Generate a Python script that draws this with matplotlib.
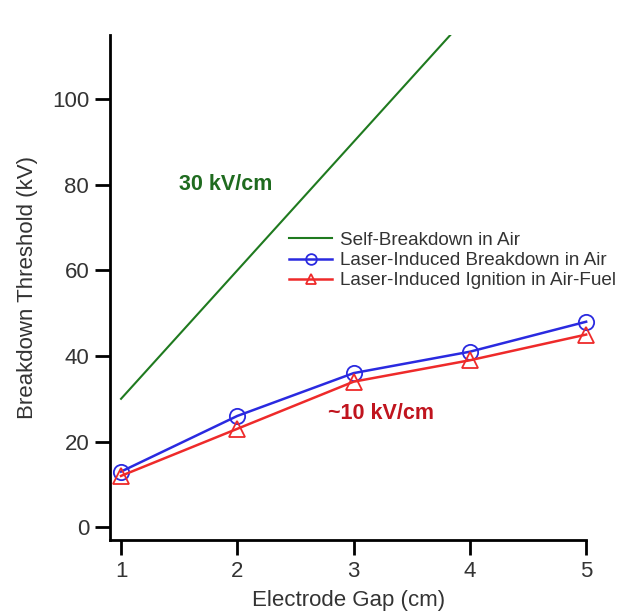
import matplotlib.pyplot as plt
import numpy as np

plt.rcParams['font.family'] = ['Liberation Sans', 'DejaVu Sans']

gap = [1, 2, 3, 4, 5]
self_breakdown = [30, 60, 90, 120, 150]
laser_breakdown = [13, 26, 36, 41, 48]
laser_ignition = [12, 23, 34, 39, 45]

fig = plt.figure(figsize=(6.34, 6.11), dpi=100)
ax = fig.add_axes([0.1735, 0.116, 0.751, 0.827])

ax.plot(gap, self_breakdown, color='#1f7a1f', lw=1.5, label='Self-Breakdown in Air')
ax.plot(gap, laser_breakdown, color='#2a2ae0', lw=1.8, marker='o', ms=11,
        mfc='none', mew=1.3, label='Laser-Induced Breakdown in Air', clip_on=False)
ax.plot(gap, laser_ignition, color='#ee2a2a', lw=1.8, marker='^', ms=11,
        mfc='none', mew=1.3, label='Laser-Induced Ignition in Air-Fuel', clip_on=False)

ax.text(1.5, 80, '30 kV/cm', color='#1f6b1f', fontsize=15.5, fontweight='bold',
        ha='left', va='center')
ax.text(2.78, 26.5, '~10 kV/cm', color='#c0141e', fontsize=15.5, fontweight='bold',
        ha='left', va='center')

ax.set_xlim(0.905, 5.0)
ax.set_ylim(-3, 115)
ax.set_xticks(gap)
ax.set_yticks([0, 20, 40, 60, 80, 100])

for s in ['top', 'right']:
    ax.spines[s].set_visible(False)
for s in ['left', 'bottom']:
    ax.spines[s].set_linewidth(2)
ax.tick_params(direction='out', length=11, width=2, labelsize=16, pad=4, colors='black')
for lab in ax.get_xticklabels() + ax.get_yticklabels():
    lab.set_color('#333333')

ax.set_xlabel('Electrode Gap (cm)', fontsize=16, color='#333333', labelpad=6)
ax.set_ylabel('Breakdown Threshold (kV)', fontsize=16, color='#333333', labelpad=10)

ax.legend(loc='upper left', bbox_to_anchor=(0.36, 0.625), frameon=False, fontsize=13.6,
          handlelength=2.3, handletextpad=0.4, labelspacing=0.15, borderaxespad=0,
          labelcolor='#333333', markerscale=0.7)

fig.savefig('out.png', dpi=100)
